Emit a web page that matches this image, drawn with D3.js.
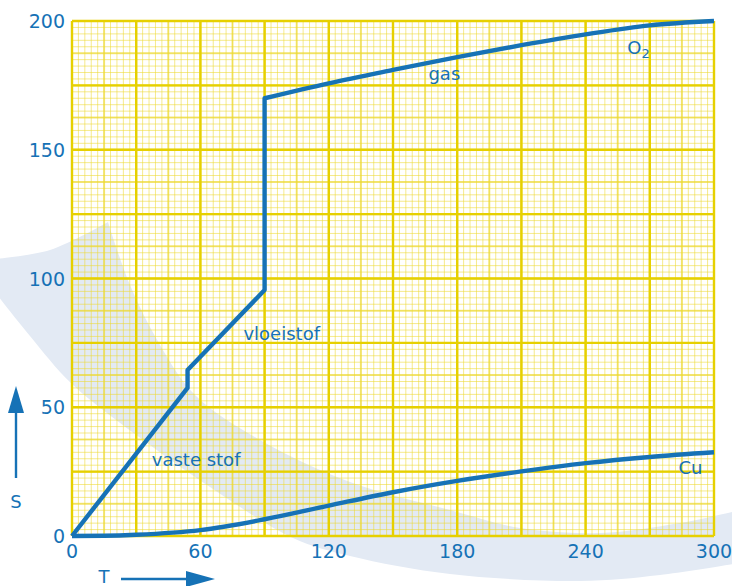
<!DOCTYPE html>
<html>
<head>
<meta charset="utf-8">
<script src="https://cdn.jsdelivr.net/npm/d3@7"></script>
<style>
  html, body { margin: 0; padding: 0; background: #fff; }
  svg { display: block; }
</style>
</head>
<body>
<svg id="chart" width="732" height="586"></svg>
<script>
// Entropy S versus temperature T for oxygen and copper
const tTicks = [0, 60, 120, 180, 240, 300];
const sTicks = [0, 50, 100, 150, 200];

// O2: solid, melting jump, liquid, boiling jump, gas
const o2T = [0, 54, 54, 90, 90, 120, 150, 180, 210, 240, 270, 300];
const o2S = [0, 57.5, 64.5, 95.5, 170, 175.8, 181, 186, 190.6, 194.8, 198.3, 200];
const o2Jumps = 4; // points 0..4 are straight segments, the rest is the smooth gas curve

// Cu: solid over the whole range
const cuT = [0, 15, 30, 60, 90, 120, 150, 180, 210, 240, 270, 300];
const cuS = [0, 0.1, 0.5, 2.3, 6.5, 11.8, 17, 21.4, 25.1, 28.3, 30.7, 32.5];

const labelNames = ["gas", "vloeistof", "vaste stof", "Cu"];
const labelT = [174, 98, 58, 289];
const labelS = [177, 76, 27, 24];

const FONT = "'DejaVu Sans', Verdana, sans-serif";
const blue = "#1672b6";

const svg = d3.select("#chart");
const x = d3.scaleLinear().domain([0, 300]).range([72, 714]);
const y = d3.scaleLinear().domain([0, 200]).range([536, 21]);

// Pale swoosh in the background
const bandInner = [[108,222],[130,285],[160,345],[195,395],[260,440],[350,482],[450,510],[520,528],[600,533],[680,523],[740,510]];
const bandOuter = [[740,563],[660,575],[580,581],[450,574],[350,556],[293,538],[210,487],[150,445],[72,384],[30,336],[-5,292]];
const bandTop = [[-5,259],[50,250],[108,222]];
const bandPath = d3.line().curve(d3.curveCatmullRom)(bandInner) + "L" +
  d3.line().curve(d3.curveCatmullRom)(bandOuter).slice(1) + "L" +
  d3.line().curve(d3.curveCatmullRom)(bandTop).slice(1) + "Z";
svg.append("path").attr("d", bandPath).attr("fill", "#e3eaf4");

// Graph-paper grid: minor, medium and major lines
const g = svg.append("g");
function vlines(step, stroke, width, op) {
  g.append("g").selectAll("line").data(d3.range(0, 300 + 1e-6, step)).join("line")
    .attr("x1", d => x(d)).attr("x2", d => x(d)).attr("y1", y(0)).attr("y2", y(200))
    .attr("stroke", stroke).attr("stroke-width", width).attr("stroke-opacity", op);
}
function hlines(step, stroke, width, op) {
  g.append("g").selectAll("line").data(d3.range(0, 200 + 1e-6, step)).join("line")
    .attr("y1", d => y(d)).attr("y2", d => y(d)).attr("x1", x(0)).attr("x2", x(300))
    .attr("stroke", stroke).attr("stroke-width", width).attr("stroke-opacity", op);
}
vlines(3, "#ecd830", 1, 0.55);
hlines(2.5, "#ecd830", 1, 0.55);
vlines(15, "#ecd830", 2, 0.6);
hlines(12.5, "#ecd830", 2, 0.6);
vlines(30, "#e6d000", 2.4, 1);
hlines(25, "#e6d000", 2.4, 1);

function txt(sel) {
  return sel.attr("font-family", FONT).attr("fill", blue);
}

// Tick labels
txt(svg.append("g").selectAll("text").data(tTicks).join("text"))
  .attr("x", d => x(d)).attr("y", 558).attr("text-anchor", "middle")
  .attr("font-size", 19).text(d => d);
txt(svg.append("g").selectAll("text").data(sTicks).join("text"))
  .attr("x", 65).attr("y", d => y(d) + 7).attr("text-anchor", "end")
  .attr("font-size", 19).text(d => d);

// Curves
const o2Lin = d3.range(0, o2Jumps + 1).map(i => [x(o2T[i]), y(o2S[i])]);
const o2Gas = d3.range(o2Jumps, o2T.length).map(i => [x(o2T[i]), y(o2S[i])]);
const o2Path = d3.line()(o2Lin) + d3.line().curve(d3.curveMonotoneX)(o2Gas).replace(/^M[^LC]*/, "");
svg.append("path").attr("d", o2Path).attr("fill", "none")
  .attr("stroke", blue).attr("stroke-width", 4.4).attr("stroke-linejoin", "round");

const cuLine = d3.line().x((d, i) => x(cuT[i])).y((d, i) => y(cuS[i])).curve(d3.curveMonotoneX);
svg.append("path").attr("d", cuLine(cuT)).attr("fill", "none")
  .attr("stroke", blue).attr("stroke-width", 4.4).attr("stroke-linejoin", "round");

// Phase and substance labels
txt(svg.append("g").selectAll("text").data(labelNames).join("text"))
  .attr("x", (d, i) => x(labelT[i])).attr("y", (d, i) => y(labelS[i]))
  .attr("text-anchor", "middle").attr("font-size", 18).text(d => d);
const o2 = txt(svg.append("text")).attr("x", x(259.5)).attr("y", y(187)).attr("font-size", 18);
o2.append("tspan").text("O");
o2.append("tspan").attr("font-size", 13).attr("dy", 4).text("2");

// Axis names with arrows
txt(svg.append("text")).attr("x", 16).attr("y", 508).attr("text-anchor", "middle").attr("font-size", 18).text("S");
txt(svg.append("text")).attr("x", 104).attr("y", 583).attr("text-anchor", "middle").attr("font-size", 18).text("T");
svg.append("line").attr("x1", 16).attr("x2", 16).attr("y1", 478).attr("y2", 405)
  .attr("stroke", blue).attr("stroke-width", 2.4);
svg.append("path").attr("d", "M16,386 L24,413 L8,413 Z").attr("fill", blue);
svg.append("line").attr("x1", 121).attr("x2", 192).attr("y1", 579).attr("y2", 579)
  .attr("stroke", blue).attr("stroke-width", 2.4);
svg.append("path").attr("d", "M215,579 L186,571 L186,587 Z").attr("fill", blue);
</script>
</body>
</html>
